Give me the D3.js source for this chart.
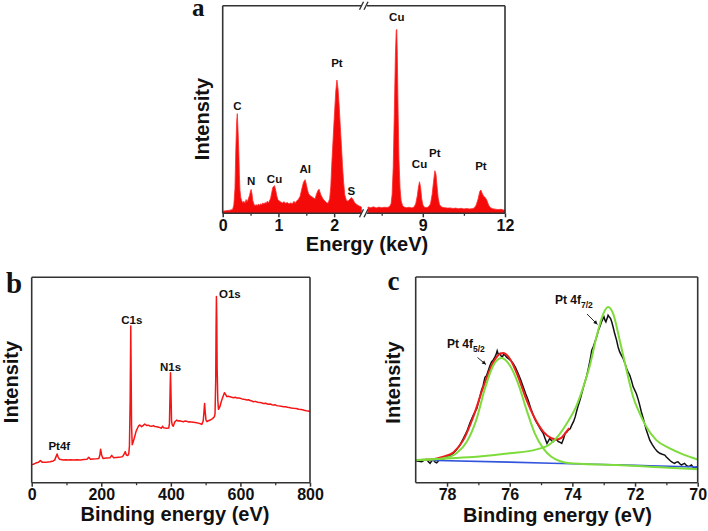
<!DOCTYPE html>
<html><head><meta charset="utf-8">
<script src="https://cdn.jsdelivr.net/npm/d3@7"></script>
<style>
body{margin:0;background:#fff}
svg{display:block}
text{font-family:"Liberation Sans",Arial,sans-serif;font-weight:bold;fill:#111}
.letter{font-family:"Liberation Serif","Times New Roman",serif;font-weight:bold}
</style></head>
<body><svg id="chart" width="708" height="531"></svg>
<script>
// ---------- Panel a: EDS spectrum (energy keV, intensity a.u.) ----------
const edsLow = [[0.00,10],[0.05,12],[0.10,14],[0.15,16],[0.18,20],[0.20,40],[0.22,120],[0.235,300],[0.25,440],[0.262,480],[0.275,400],[0.29,290],[0.30,180],[0.31,110],[0.325,75],[0.34,62],[0.36,50],[0.38,58],[0.40,48],[0.42,66],[0.44,55],[0.46,70],[0.48,85],[0.50,108],[0.51,115],[0.525,95],[0.54,62],[0.56,45],[0.58,35],[0.60,42],[0.62,36],[0.64,45],[0.66,38],[0.68,46],[0.70,40],[0.72,50],[0.74,44],[0.76,52],[0.78,47],[0.80,58],[0.82,50],[0.84,60],[0.86,72],[0.88,100],[0.90,125],[0.93,133],[0.95,112],[0.97,85],[0.99,66],[1.01,60],[1.04,55],[1.07,50],[1.10,56],[1.13,48],[1.16,52],[1.19,45],[1.22,50],[1.25,46],[1.28,58],[1.30,48],[1.33,60],[1.36,68],[1.39,82],[1.42,118],[1.45,150],[1.48,162],[1.50,140],[1.52,115],[1.54,95],[1.57,85],[1.60,80],[1.63,74],[1.66,70],[1.68,90],[1.71,110],[1.73,116],[1.75,98],[1.77,84],[1.80,70],[1.83,60],[1.86,52],[1.89,48],[1.92,70],[1.94,130],[1.96,250],[1.98,350],[2.00,450],[2.03,590],[2.05,642],[2.07,600],[2.09,520],[2.11,420],[2.13,330],[2.15,230],[2.17,150],[2.19,90],[2.22,62],[2.25,58],[2.28,68],[2.31,76],[2.34,66],[2.37,50],[2.40,44],[2.43,38],[2.46,34],[2.49,30]];
const edsHigh = [[7.00,30],[7.10,27],[7.20,31],[7.30,26],[7.40,30],[7.50,27],[7.60,29],[7.70,28],[7.78,32],[7.84,45],[7.88,90],[7.92,220],[7.96,480],[8.00,760],[8.03,880],[8.05,886],[8.07,760],[8.10,480],[8.13,260],[8.17,120],[8.21,60],[8.26,38],[8.32,30],[8.40,27],[8.50,29],[8.60,26],[8.68,30],[8.74,45],[8.80,85],[8.84,125],[8.88,152],[8.92,125],[8.96,70],[9.00,42],[9.05,30],[9.12,27],[9.20,30],[9.28,45],[9.34,90],[9.39,150],[9.44,205],[9.48,188],[9.52,130],[9.56,75],[9.61,42],[9.68,30],[9.80,27],[9.90,25],[10.00,26],[10.10,23],[10.20,25],[10.30,22],[10.40,24],[10.50,21],[10.60,23],[10.70,21],[10.80,22],[10.88,26],[10.95,40],[11.02,70],[11.08,105],[11.12,112],[11.16,98],[11.22,82],[11.28,76],[11.34,62],[11.40,40],[11.46,28],[11.55,22],[11.65,20],[11.75,18],[11.85,19],[11.95,16],[12.00,17]];
const edsLabels = [["C",0.262,"low",500],["N",0.51,"low",135],["Cu",0.93,"low",145],["Al",1.48,"low",193],["Pt",2.05,"low",705],["S",2.31,"low",88],["Cu",8.05,"high",925],["Cu",8.88,"high",217],["Pt",9.44,"high",272],["Pt",11.12,"high",207]];
const edsTicksLow = [0,1,2], edsMinorLow = [0.5,1.5];
const edsTicksHigh = [9,12], edsMinorHigh = [7.5,10.5];

// ---------- Panel b: XPS survey (binding energy eV, intensity a.u.) ----------
const survey = [[0,88],[5,90],[10,94],[14,97],[20,100],[25,108],[30,100],[40,99],[47,101],[53,102],[62,106],[66,110],[70,127],[73,140],[76,125],[80,114],[91,110],[98,112],[105,110],[112,112],[120,110],[130,112],[140,111],[150,113],[159,114],[164,124],[169,114],[177,115],[185,116],[193,118],[196,135],[198,163],[201,135],[205,118],[215,120],[225,121],[230,133],[235,122],[243,123],[250,124],[256,125],[261,127],[266,140],[269,151],[272,135],[276,132],[279,140],[281,180],[283,400],[284.8,763],[286,500],[287,280],[289,185],[292,200],[296,224],[300,250],[304,265],[308,278],[311,281],[316,273],[320,278],[325,286],[330,279],[335,280],[340,276],[345,275],[350,278],[354,273],[360,272],[365,270],[369,268],[373,265],[376,275],[379,268],[384,266],[388,265],[394,266],[396,290],[398,460],[399,535],[400,470],[402,300],[404,282],[407,275],[410,290],[412,297],[417,305],[421,300],[425,302],[430,299],[436,297],[440,300],[445,299],[450,296],[455,297],[460,295],[465,294],[470,293],[474,292],[479,290],[483,288],[489,284],[493,300],[495,340],[497,386],[499,340],[501,305],[504,297],[508,302],[513,305],[520,312],[525,321],[527,335],[529,500],[530,750],[531,906],[532,800],[533,560],[535,400],[537,357],[541,370],[545,395],[550,420],[554,438],[558,428],[561,419],[566,421],[570,418],[575,416],[580,414],[585,416],[590,412],[595,413],[599,411],[605,408],[610,406],[614,405],[618,403],[623,404],[628,400],[633,398],[637,394],[643,396],[650,392],[656,391],[660,389],[666,386],[672,387],[680,382],[686,383],[690,380],[695,378],[700,379],[705,375],[710,374],[717,372],[724,370],[730,370],[735,367],[740,366],[746,364],[753,362],[760,361],[768,358],[775,356],[781,354],[786,351],[790,350],[795,349],[800,346]];
const surveyLabels = [["Pt4f",72,160,2.5],["C1s",284.8,771,1],["N1s",399,544,0],["O1s",531,898,13.5]];
const surveyTicks = [0,200,400,600,800], surveyMinor = [100,300,500,700];

// ---------- Panel c: Pt 4f high-resolution XPS ----------
const pt4fData = [[79.0,107],[78.9,104],[78.81,102],[78.72,110],[78.65,113],[78.58,100],[78.54,94],[78.49,106],[78.44,111],[78.38,100],[78.33,97],[78.25,110],[78.17,118],[78.1,115],[78.01,126],[77.9,132],[77.8,143],[77.7,160],[77.59,183],[77.48,215],[77.37,248],[77.27,290],[77.16,329],[77.05,361],[76.98,400],[76.9,450],[76.85,470],[76.79,512],[76.74,520],[76.68,547],[76.63,570],[76.58,587],[76.52,598],[76.47,612],[76.43,625],[76.4,641],[76.36,622],[76.31,628],[76.27,615],[76.23,612],[76.19,625],[76.15,620],[76.1,610],[76.05,604],[75.97,595],[75.89,580],[75.81,558],[75.73,531],[75.65,500],[75.57,466],[75.49,432],[75.41,401],[75.33,362],[75.25,329],[75.17,300],[75.09,280],[75.01,258],[74.93,240],[74.87,215],[74.81,191],[74.76,205],[74.72,216],[74.67,205],[74.62,199],[74.56,208],[74.51,211],[74.45,200],[74.39,196],[74.34,191],[74.28,215],[74.23,240],[74.18,245],[74.13,256],[74.07,262],[74.02,280],[73.96,298],[73.91,320],[73.86,350],[73.81,377],[73.75,405],[73.7,434],[73.65,462],[73.6,490],[73.54,520],[73.49,555],[73.43,600],[73.38,644],[73.33,662],[73.28,684],[73.22,712],[73.17,741],[73.12,760],[73.07,782],[73.03,795],[72.99,806],[72.96,790],[72.93,782],[72.89,800],[72.86,814],[72.82,805],[72.78,798],[72.74,780],[72.7,757],[72.65,725],[72.59,693],[72.54,660],[72.49,636],[72.43,618],[72.38,604],[72.32,580],[72.27,555],[72.22,538],[72.17,523],[72.11,495],[72.06,466],[72.01,450],[71.96,434],[71.9,405],[71.85,377],[71.8,345],[71.74,313],[71.69,285],[71.64,256],[71.58,230],[71.53,207],[71.45,185],[71.37,167],[71.29,152],[71.21,143],[71.13,138],[71.05,134],[71.0,125],[70.95,118],[70.9,110],[70.84,102],[70.79,98],[70.74,94],[70.68,100],[70.63,102],[70.57,92],[70.52,86],[70.47,90],[70.42,94],[70.36,84],[70.31,78],[70.25,82],[70.2,86],[70.15,76],[70.1,70],[70.05,75],[70.0,78]];
const fitEnvelope = [[79,110],[78.5,113],[78.12,126],[77.8,147],[77.48,207],[77.16,321],[76.84,466],[76.52,587],[76.3,627],[76.2,631],[76.1,622],[76.0,604],[75.73,515],[75.46,401],[75.2,313],[74.93,248],[74.67,216],[74.5,210],[74.35,218],[74.23,240],[74.1,265]];
const fitPeak52 = [[79,110],[78.5,113],[78.12,118],[77.7,143],[77.37,199],[77.05,313],[76.79,458],[76.52,571],[76.26,606],[76.0,571],[75.73,482],[75.46,353],[75.2,240],[74.93,167],[74.67,126],[74.39,104],[74.07,94],[73.65,91],[72.59,86],[71.53,78],[70.0,65]];
const fitPeak72 = [[79,110],[78,118],[77.05,126],[76.0,143],[75.14,162],[74.71,188],[74.45,228],[74.18,288],[73.86,377],[73.65,466],[73.44,571],[73.23,709],[73.01,822],[72.86,854],[72.7,822],[72.49,693],[72.27,547],[72.06,417],[71.85,337],[71.64,272],[71.32,207],[70.89,167],[70.47,138],[70.0,113]];
const fitBackground = [[79,110],[76,100],[74,92],[72,84],[70,76]];
const pt4fTicks = [78,76,74,72,70], pt4fMinor = [77,75,73,71];

// ---------- drawing ----------
const svg = d3.select("#chart");
const axisColor = "#333";

function frameLine(x1,y1,x2,y2){
  svg.append("line").attr("x1",x1).attr("y1",y1).attr("x2",x2).attr("y2",y2)
    .attr("stroke",axisColor).attr("stroke-width",1.6);
}
function bottomTicks(g, scale, y, major, minor){
  const a = d3.axisBottom(scale).tickValues(major).tickSize(4).tickSizeOuter(0).tickFormat(d3.format("d"));
  const ax = g.append("g").attr("transform",`translate(0,${y})`).call(a);
  ax.select(".domain").remove();
  ax.selectAll(".tick line").attr("stroke",axisColor).attr("stroke-width",1.5);
  ax.selectAll(".tick text").attr("font-size",16).attr("y",5.5).attr("dy","0.75em")
    .style("font-family","'Liberation Sans',Arial,sans-serif").style("font-weight","bold").attr("fill","#111");
  const m = d3.axisBottom(scale).tickValues(minor).tickSize(2.5).tickFormat("");
  const mx = g.append("g").attr("transform",`translate(0,${y})`).call(m);
  mx.select(".domain").remove();
  mx.selectAll(".tick line").attr("stroke",axisColor).attr("stroke-width",1.3);
}
function yTitle(x,y){
  svg.append("text").attr("transform",`translate(${x},${y}) rotate(-90)`)
    .attr("text-anchor","middle").attr("font-size",20).text("Intensity");
}
function xTitle(x,y,t){
  svg.append("text").attr("x",x).attr("y",y).attr("text-anchor","middle").attr("font-size",20).text(t);
}

// Panel a
const aL=222.7, aR=505, aT=5.7, aB=213.3;
const xLow = d3.scaleLinear().domain([0,2.5]).range([aL,362]);
const xHigh = d3.scaleLinear().domain([7,12]).range([368,505]);
const yA = d3.scaleLinear().domain([0,1000]).range([aB,aT]);
const gA = svg.append("g");
function edsArea(xs){ return d3.area().x(d=>xs(d[0])).y0(aB).y1(d=>yA(d[1])); }
gA.append("path").datum(edsLow).attr("d",edsArea(xLow)).attr("fill","#f50a0a").attr("stroke","#ff2a2a").attr("stroke-width",0.8);
gA.append("path").datum(edsHigh).attr("d",edsArea(xHigh)).attr("fill","#f50a0a").attr("stroke","#ff2a2a").attr("stroke-width",0.8);
frameLine(aL,aT,aL,aB);
frameLine(aR,aT,aR,aB);
frameLine(aL,aT,361.5,aT); frameLine(367,aT,aR,aT);
frameLine(aL,aB,361.5,aB); frameLine(367,aB,aR,aB);
// break marks
[[aT],[aB]].forEach(([yy])=>{
  [[359.5,yy+4,363.5,yy-4],[364,yy+4,368,yy-4]].forEach(s=>{
    svg.append("line").attr("x1",s[0]).attr("y1",s[1]).attr("x2",s[2]).attr("y2",s[3])
      .attr("stroke",axisColor).attr("stroke-width",1.4);
  });
});
bottomTicks(gA,xLow,aB,edsTicksLow,edsMinorLow);
bottomTicks(gA,xHigh,aB,edsTicksHigh,edsMinorHigh);
edsLabels.forEach(([t,e,seg,v])=>{
  const xs = seg==="low"?xLow:xHigh;
  gA.append("text").attr("x",xs(e)).attr("y",yA(v)).attr("text-anchor","middle").attr("font-size",11.5).text(t);
});
yTitle(208.5,119);
xTitle(367,250.5,"Energy (keV)");
svg.append("text").attr("class","letter").attr("x",192).attr("y",16).attr("font-size",25).text("a");

// Panel b
const bL=31.7, bR=310, bT=277.3, bB=482.7;
const xB = d3.scaleLinear().domain([0,800]).range([bL,bR]);
const yB = d3.scaleLinear().domain([0,1000]).range([bB,bT]);
const gB = svg.append("g");
gB.append("path").datum(survey).attr("d",d3.line().x(d=>xB(d[0])).y(d=>yB(d[1])))
  .attr("fill","none").attr("stroke","#f51515").attr("stroke-width",1.5).attr("stroke-linejoin","round");
frameLine(bL,bT,bR,bT); frameLine(bL,bB,bR,bB); frameLine(bL,bT,bL,bB); frameLine(bR,bT,bR,bB);
bottomTicks(gB,xB,bB,surveyTicks,surveyMinor);
surveyLabels.forEach(([t,e,v,dx])=>{
  gB.append("text").attr("x",xB(e)+dx).attr("y",yB(v)).attr("text-anchor","middle").attr("font-size",11.5).text(t);
});
yTitle(17.5,382);
xTitle(175,521,"Binding energy (eV)");
svg.append("text").attr("class","letter").attr("x",6).attr("y",293).attr("font-size",29).text("b");

// Panel c
const cL=415.7, cR=697.7, cT=277, cB=482.7;
const xC = d3.scaleLinear().domain([79,70]).range([cL,cR]);
const yC = d3.scaleLinear().domain([0,1000]).range([cB,cT]);
const gC = svg.append("g");
const lineC = d3.line().x(d=>xC(d[0])).y(d=>yC(d[1]));
const smoothC = d3.line().x(d=>xC(d[0])).y(d=>yC(d[1])).curve(d3.curveMonotoneX);
gC.append("path").datum(pt4fData).attr("d",lineC).attr("fill","none").attr("stroke","#111").attr("stroke-width",1.5);
gC.append("path").datum(fitBackground).attr("d",smoothC).attr("fill","none").attr("stroke","#3355dd").attr("stroke-width",1.6);
gC.append("path").datum(fitEnvelope).attr("d",smoothC).attr("fill","none").attr("stroke","#ee1c1c").attr("stroke-width",2);
gC.append("path").datum(fitPeak52).attr("d",smoothC).attr("fill","none").attr("stroke","#7ddc3c").attr("stroke-width",2);
gC.append("path").datum(fitPeak72).attr("d",smoothC).attr("fill","none").attr("stroke","#7ddc3c").attr("stroke-width",2);
frameLine(cL,cT,cR,cT); frameLine(cL,cB,cR,cB); frameLine(cL,cT,cL,cB); frameLine(cR,cT,cR,cB);
bottomTicks(gC,xC,cB,pt4fTicks,pt4fMinor);
function peakLabel(x,y,sub){
  const t = gC.append("text").attr("x",x).attr("y",y).attr("font-size",12);
  t.append("tspan").text("Pt 4f");
  t.append("tspan").attr("dy",4).attr("font-size",8.5).text(sub);
}
peakLabel(447,348,"5/2");
peakLabel(555,303.5,"7/2");
function arrow(x1,y1,x2,y2){
  gC.append("line").attr("x1",x1).attr("y1",y1).attr("x2",x2).attr("y2",y2).attr("stroke","#111").attr("stroke-width",0.9);
  const ang = Math.atan2(y2-y1,x2-x1), L=4, W=2;
  const p = [[x2,y2],[x2-L*Math.cos(ang)+W*Math.sin(ang), y2-L*Math.sin(ang)-W*Math.cos(ang)],[x2-L*Math.cos(ang)-W*Math.sin(ang), y2-L*Math.sin(ang)+W*Math.cos(ang)]];
  gC.append("path").attr("d","M"+p.map(q=>q.join(",")).join("L")+"Z").attr("fill","#111");
}
arrow(477.5,357.5,486,364.5);
arrow(587,314,597.5,324.5);
yTitle(400,382.5);
xTitle(557.5,521.5,"Binding energy (eV)");
svg.append("text").attr("class","letter").attr("x",387.5).attr("y",289.5).attr("font-size",27).text("c");
</script></body></html>
